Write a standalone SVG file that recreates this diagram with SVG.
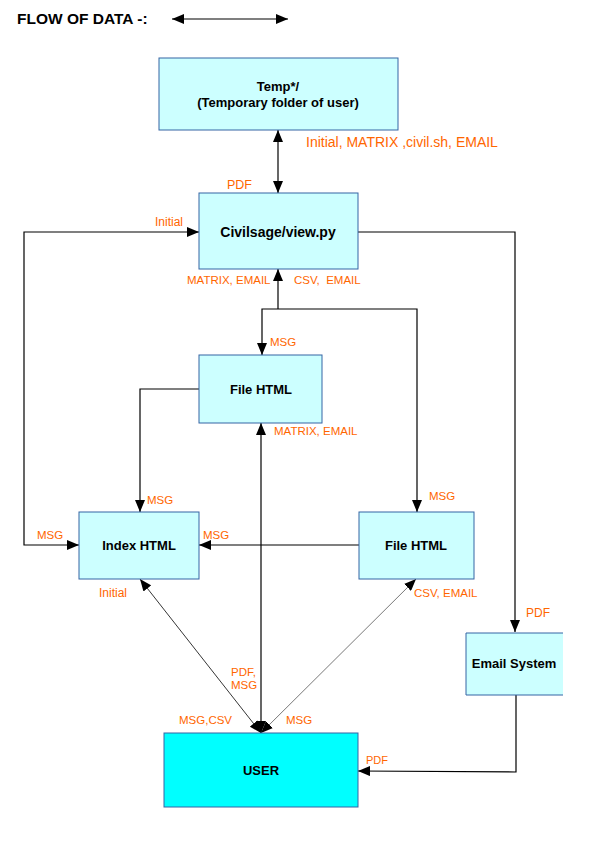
<svg xmlns="http://www.w3.org/2000/svg" width="595" height="842" viewBox="0 0 595 842">
<style>
.box{fill:#ccffff;stroke:#3465a4;stroke-width:1}
.nt{font-family:"Liberation Sans",Arial,sans-serif;font-weight:bold;font-size:13px;fill:#000;text-anchor:middle}
.lb{font-family:"Liberation Sans",Arial,sans-serif;font-size:11.5px;fill:#ff6600}
.ln{fill:none;stroke:#000;stroke-width:1.2}
.thin{fill:none;stroke:#000;stroke-width:0.8}
</style>
<defs>
<marker id="ah" markerUnits="userSpaceOnUse" markerWidth="12" markerHeight="10" refX="12" refY="5" orient="auto-start-reverse" viewBox="0 0 12 10">
<path d="M0,0 L12,5 L0,10 z" fill="#000"/>
</marker>
</defs>
<rect width="595" height="842" fill="#fff"/>
<text x="17" y="24" font-family="Liberation Sans,Arial,sans-serif" font-weight="bold" font-size="15.5px">FLOW OF DATA -:</text>
<line x1="172" y1="19" x2="288" y2="19" class="ln" marker-start="url(#ah)" marker-end="url(#ah)"/>

<g id="connectors">
<line x1="278" y1="130" x2="278" y2="193" class="ln" marker-start="url(#ah)" marker-end="url(#ah)"/>
<polyline points="79,545 24,545 24,232 199,232" class="ln" marker-start="url(#ah)" marker-end="url(#ah)"/>
<polyline points="358,232 515,232 515,632" class="ln" marker-end="url(#ah)"/>
<line x1="278" y1="309" x2="278" y2="269" class="ln" marker-end="url(#ah)"/>
<polyline points="262,355 262,309 417,309 417,512" class="ln" marker-start="url(#ah)" marker-end="url(#ah)"/>
<polyline points="199,389 140,389 140,512" class="ln" marker-end="url(#ah)"/>
<line x1="359" y1="545" x2="199" y2="545" class="ln" marker-end="url(#ah)"/>
<line x1="261" y1="423" x2="261" y2="733" class="ln" marker-start="url(#ah)" marker-end="url(#ah)"/>
<line x1="140" y1="579" x2="261" y2="733" class="thin" marker-start="url(#ah)" marker-end="url(#ah)"/>
<line x1="416" y1="579" x2="261" y2="733" class="thin" style="stroke:#555" marker-start="url(#ah)" marker-end="url(#ah)"/>
<polyline points="516,695 516,772 358,771" class="ln" marker-end="url(#ah)"/>
</g>

<g id="temp">
<rect x="159" y="58" width="239" height="72" class="box"/>
<text x="278" y="91" class="nt">Temp*/</text>
<text x="278" y="107" class="nt">(Temporary folder of user)</text>
</g>
<g id="civilsage">
<rect x="199" y="193" width="159" height="76" class="box"/>
<text x="278" y="237" class="nt" style="font-size:14px">Civilsage/view.py</text>
</g>
<g id="filehtml1">
<rect x="199" y="355" width="123" height="68" class="box"/>
<text x="261" y="394" class="nt">File HTML</text>
</g>
<g id="indexhtml">
<rect x="79" y="512" width="120" height="67" class="box"/>
<text x="139" y="550" class="nt">Index HTML</text>
</g>
<g id="filehtml2">
<rect x="359" y="512" width="115" height="67" class="box"/>
<text x="416" y="550" class="nt">File HTML</text>
</g>
<g id="email">
<rect x="466" y="633" width="97" height="62" fill="#ccffff"/>
<path d="M563,633 H466 V695 H563" fill="none" stroke="#3465a4"/>
<text x="514" y="668" class="nt">Email System</text>
</g>
<g id="user">
<rect x="164" y="733" width="194" height="74" fill="#00ffff" stroke="#3465a4"/>
<text x="261" y="775" class="nt">USER</text>
</g>

<g id="labels">
<text x="306" y="147" class="lb" style="font-size:14px">Initial, MATRIX ,civil.sh, EMAIL</text>
<text x="227" y="189" class="lb" style="font-size:12.5px">PDF</text>
<text x="155" y="226" class="lb" style="font-size:12px">Initial</text>
<text x="187" y="284" class="lb">MATRIX, EMAIL</text>
<text x="294" y="284" class="lb">CSV,&#160; EMAIL</text>
<text x="270" y="346" class="lb">MSG</text>
<text x="274" y="435" class="lb">MATRIX, EMAIL</text>
<text x="147" y="504" class="lb">MSG</text>
<text x="429" y="500" class="lb">MSG</text>
<text x="37" y="539" class="lb">MSG</text>
<text x="203" y="539" class="lb">MSG</text>
<text x="99" y="597" class="lb" style="font-size:12px">Initial</text>
<text x="414" y="597" class="lb">CSV, EMAIL</text>
<text x="526" y="617" class="lb" style="font-size:12px">PDF</text>
<text x="231" y="676" class="lb">PDF,</text>
<text x="231" y="689" class="lb">MSG</text>
<text x="179" y="724" class="lb">MSG,CSV</text>
<text x="286" y="724" class="lb">MSG</text>
<text x="366" y="764" class="lb" style="font-size:11px">PDF</text>
</g>
</svg>
